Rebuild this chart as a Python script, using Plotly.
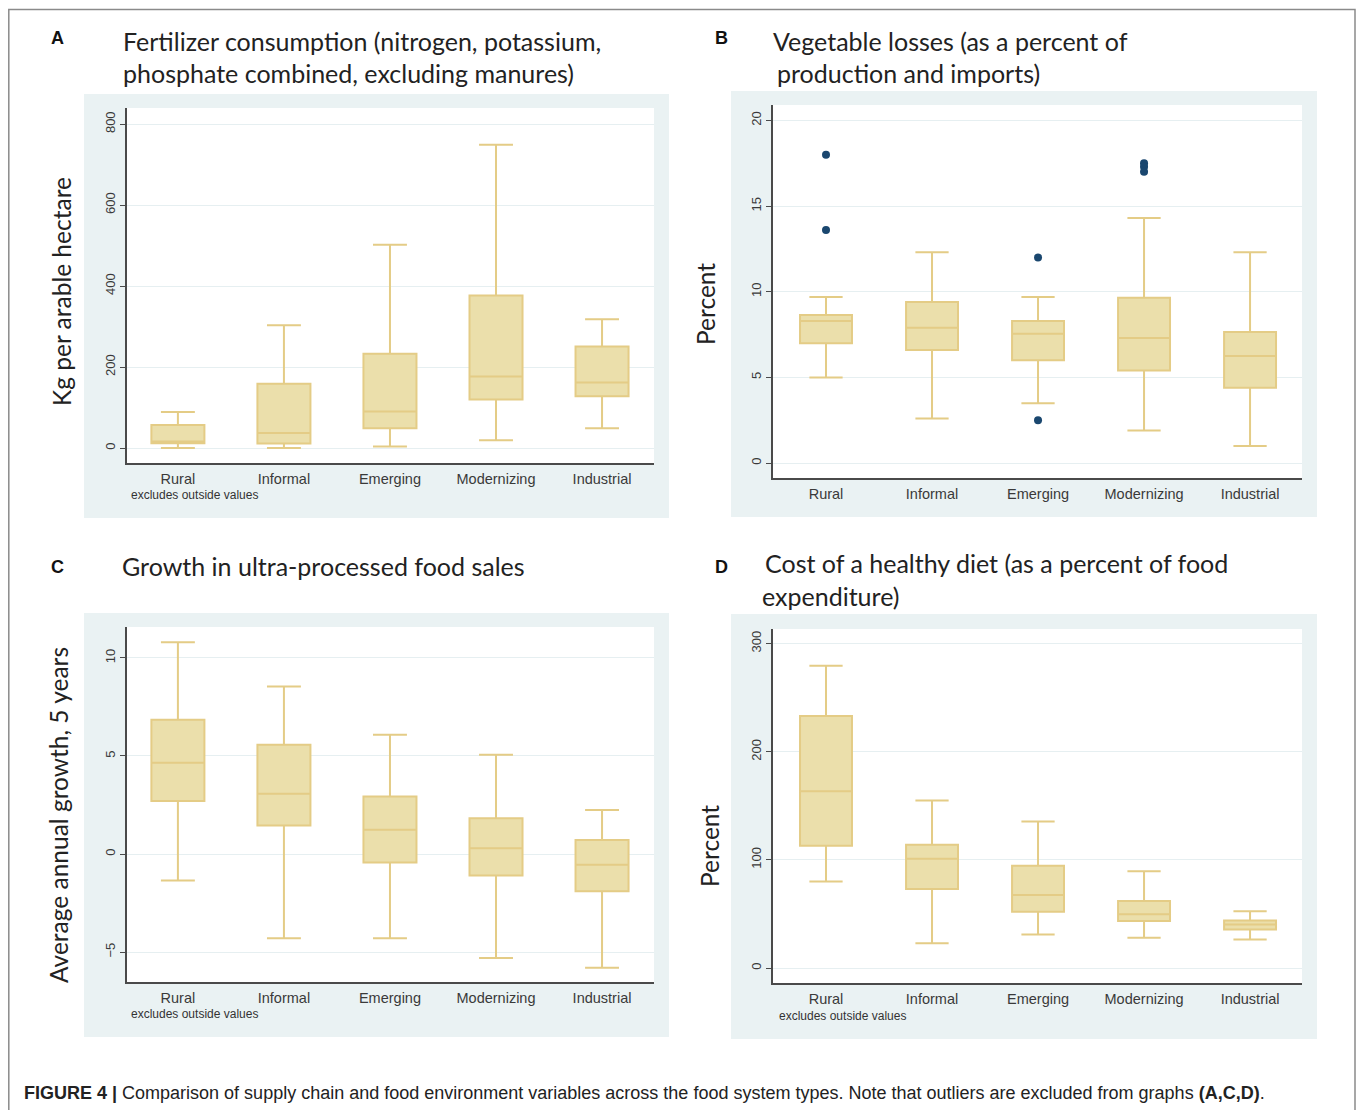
import plotly.graph_objects as go

W, H = 1358, 1110

categories = ["Rural", "Informal", "Emerging", "Modernizing", "Industrial"]
positions = [1, 2, 3, 4, 5]

# Panel A: Fertilizer consumption (kg per arable hectare)
a_lower = [0, 0, 4, 19, 49]
a_q1 = [12, 11, 49, 120, 128]
a_med = [16, 37, 90, 177, 162]
a_q3 = [57, 159, 233, 377, 251]
a_upper = [89, 303, 502, 749, 318]

# Panel B: Vegetable losses (percent)
b_lower = [5.0, 2.6, 3.5, 1.9, 1.0]
b_q1 = [7.0, 6.6, 6.0, 5.4, 4.4]
b_med = [8.3, 7.9, 7.55, 7.3, 6.25]
b_q3 = [8.65, 9.4, 8.3, 9.65, 7.65]
b_upper = [9.7, 12.3, 9.7, 14.3, 12.3]
b_out_x = [1, 1, 3, 3, 4, 4, 4]
b_out_y = [18.0, 13.6, 12.0, 2.5, 17.5, 17.3, 17.0]

# Panel C: Growth in ultra-processed food sales
c_lower = [-1.35, -4.3, -4.3, -5.3, -5.8]
c_q1 = [2.7, 1.45, -0.43, -1.1, -1.9]
c_med = [4.65, 3.07, 1.24, 0.29, -0.55]
c_q3 = [6.85, 5.57, 2.93, 1.82, 0.72]
c_upper = [10.8, 8.55, 6.08, 5.06, 2.25]

# Panel D: Cost of a healthy diet
d_lower = [80, 23, 31, 28, 26.5]
d_q1 = [113, 73, 52, 43.6, 35.6]
d_med = [163.5, 101, 67.5, 49.7, 40.2]
d_q3 = [233, 114, 94.5, 62, 44]
d_upper = [279.5, 155, 135.5, 89.6, 52.5]

a_ticks = [0, 200, 400, 600, 800]
b_ticks = [0, 5, 10, 15, 20]
c_ticks = [-5, 0, 5, 10]
d_ticks = [0, 100, 200, 300]

BOX_LINE = "#E4CC86"
BOX_FILL = "#EBDFAB"
NAVY = "#1A476F"
REGION = "#EAF2F3"
GRID = "#E6EFF1"
AXIS = "#4a4a4a"
TICKTXT = "#3a3a3a"
TITLE_FONT = "Lato"
SANS = "Liberation Sans"


def px(x):
    return x / W


def py(y):
    return 1 - y / H


fig = go.Figure()

panels = [
    ("", a_lower, a_q1, a_med, a_q3, a_upper, 0.50),
    ("2", b_lower, b_q1, b_med, b_q3, b_upper, 0.49),
    ("3", c_lower, c_q1, c_med, c_q3, c_upper, 0.50),
    ("4", d_lower, d_q1, d_med, d_q3, d_upper, 0.49),
]
for suf, lo, q1, md, q3, up, bw in panels:
    fig.add_trace(go.Box(
        x=positions, q1=q1, median=md, q3=q3, lowerfence=lo, upperfence=up,
        width=bw, whiskerwidth=0.64, fillcolor=BOX_FILL,
        line=dict(color=BOX_LINE, width=2), boxpoints=False,
        xaxis="x" + suf, yaxis="y" + suf, showlegend=False, hoverinfo="skip",
    ))

fig.add_trace(go.Scatter(
    x=b_out_x, y=b_out_y, mode="markers", xaxis="x2", yaxis="y2",
    marker=dict(color=NAVY, size=8), showlegend=False, hoverinfo="skip",
))

# geometry in reference pixels: (left, right, top, bottom)
geo = {
    "": (127, 654, 108, 463),
    "2": (773, 1302, 105, 478),
    "3": (127, 654, 627, 982),
    "4": (773, 1302, 629, 983),
}
yranges = {"": [-37, 840], "2": [-0.87, 20.9], "3": [-6.53, 11.58], "4": [-13.8, 313.5]}
xranges = {"": [0.52, 5.49], "2": [0.50, 5.49], "3": [0.52, 5.49], "4": [0.50, 5.49]}
yticks = {"": a_ticks, "2": b_ticks, "3": c_ticks, "4": d_ticks}

layout = dict(
    width=W, height=H, margin=dict(l=0, r=0, t=0, b=0),
    paper_bgcolor="white", plot_bgcolor="white", showlegend=False,
)
for suf, (l, r, t, b) in geo.items():
    layout["xaxis" + suf] = dict(
        domain=[px(l), px(r)], range=xranges[suf], anchor="y" + suf,
        tickvals=positions, ticktext=categories, showgrid=False, zeroline=False,
        showline=True, linecolor=AXIS, linewidth=1.5,
        ticks="outside", ticklen=2, tickcolor="rgba(0,0,0,0)",
        tickfont=dict(family=SANS, size=14.5, color=TICKTXT),
    )
    layout["yaxis" + suf] = dict(
        domain=[py(b), py(t)], range=yranges[suf], anchor="x" + suf,
        tickvals=yticks[suf], tickangle=-90, showgrid=True, gridcolor=GRID,
        gridwidth=1.2, zeroline=False, showline=True, linecolor=AXIS, linewidth=1.5,
        ticks="outside", ticklen=5, tickcolor=AXIS, tickwidth=1.2,
        tickfont=dict(family=SANS, size=13, color=TICKTXT),
    )

shapes = []
# graph region backgrounds (left, top, right, bottom)
for (l, t, r, b) in [(84, 94, 669, 518), (731, 91, 1317, 517), (84, 613, 669, 1037), (731, 614, 1317, 1039)]:
    shapes.append(dict(type="rect", xref="paper", yref="paper", x0=px(l), x1=px(r),
                       y0=py(b), y1=py(t), fillcolor=REGION, line=dict(width=0), layer="below"))
for suf, (l, r, t, b) in geo.items():
    shapes.append(dict(type="rect", xref="paper", yref="paper", x0=px(l), x1=px(r),
                       y0=py(b), y1=py(t), fillcolor="white", line=dict(width=0), layer="below"))
# outer frame
shapes.append(dict(type="rect", xref="paper", yref="paper", x0=px(8.8), x1=px(1355),
                   y0=py(1130), y1=py(9.5), fillcolor="rgba(0,0,0,0)",
                   line=dict(color="#8a8a8a", width=1.5), layer="above"))
layout["shapes"] = shapes

ann = []


def text(x, y, s, size, family, color="#222", xanchor="left", angle=0, yanchor="middle"):
    ann.append(dict(x=px(x), y=py(y), xref="paper", yref="paper", text=s, showarrow=False,
                    xanchor=xanchor, yanchor=yanchor, textangle=angle,
                    font=dict(size=size, family=family, color=color)))


# panel letters
for lab, x, y in [("A", 49, 38), ("B", 713, 38), ("C", 49, 567), ("D", 713, 567)]:
    text(x, y, "<b>%s</b>" % lab, 18, SANS, "#111")

# titles
TS = 25
text(121, 41, "Fertilizer consumption (nitrogen, potassium,", TS, TITLE_FONT)
text(121, 73, "phosphate combined, excluding manures)", TS, TITLE_FONT)
text(771, 41, "Vegetable losses (as a percent of", TS, TITLE_FONT)
text(775, 73, "production and imports)", TS, TITLE_FONT)
text(120, 566, "Growth in ultra-processed food sales", TS, TITLE_FONT)
text(763, 563, "Cost of a healthy diet (as a percent of food", TS, TITLE_FONT)
text(760, 596, "expenditure)", TS, TITLE_FONT)

# y-axis titles
YS = 24.5
text(61, 292, "Kg per arable hectare", YS, TITLE_FONT, xanchor="center", angle=-90)
text(705, 304, "Percent", YS, TITLE_FONT, xanchor="center", angle=-90)
text(58, 815, "Average annual growth, 5 years", YS, TITLE_FONT, xanchor="center", angle=-90)
text(709, 846, "Percent", YS, TITLE_FONT, xanchor="center", angle=-90)

# notes
text(129, 495, "excludes outside values", 12, SANS, "#333")
text(129, 1014, "excludes outside values", 12, SANS, "#333")
text(777, 1016, "excludes outside values", 12, SANS, "#333")

# caption
text(22, 1093, "<b>FIGURE 4 |</b> Comparison of supply chain and food environment variables across the food system types. "
     "Note that outliers are excluded from graphs <b>(A,C,D)</b>.", 18, SANS, "#222")

layout["annotations"] = ann
fig.update_layout(**layout)
fig.write_html(
    "out.html",
    config={"displayModeBar": False},
    post_script="document.body.style.margin='0';document.body.style.overflow='hidden';",
)
